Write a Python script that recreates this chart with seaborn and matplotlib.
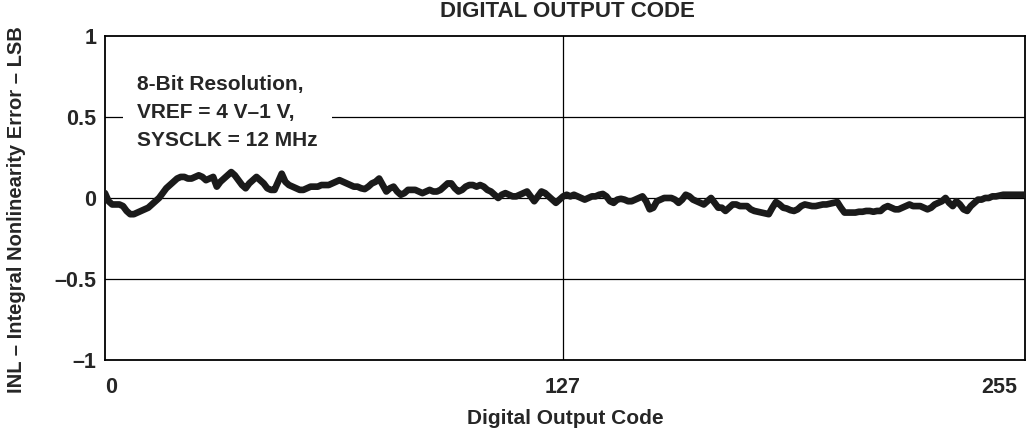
import seaborn as sns, pandas as pd, matplotlib.pyplot as plt
from matplotlib.transforms import ScaledTranslation

# INL values, one per output code 0..255
codes = list(range(256))
inl = [
    0.03, -0.02, -0.04, -0.04, -0.04, -0.05, -0.08, -0.10, -0.10, -0.09, -0.08, -0.07, -0.06, -0.04, -0.02, 0.00,
    0.03, 0.06, 0.08, 0.10, 0.12, 0.13, 0.13, 0.12, 0.12, 0.13, 0.14, 0.13, 0.11, 0.12, 0.13, 0.07,
    0.10, 0.12, 0.14, 0.16, 0.14, 0.11, 0.08, 0.06, 0.09, 0.11, 0.13, 0.11, 0.09, 0.06, 0.05, 0.05,
    0.10, 0.15, 0.10, 0.08, 0.07, 0.06, 0.05, 0.05, 0.06, 0.07, 0.07, 0.07, 0.08, 0.08, 0.08, 0.09,
    0.10, 0.11, 0.10, 0.09, 0.08, 0.07, 0.07, 0.06, 0.055, 0.07, 0.09, 0.10, 0.12, 0.08, 0.04, 0.06,
    0.07, 0.04, 0.02, 0.03, 0.05, 0.05, 0.05, 0.04, 0.03, 0.04, 0.05, 0.04, 0.04, 0.05, 0.07, 0.09,
    0.09, 0.06, 0.04, 0.05, 0.07, 0.08, 0.08, 0.07, 0.08, 0.07, 0.05, 0.04, 0.02, 0.00, 0.02, 0.03,
    0.02, 0.01, 0.01, 0.02, 0.03, 0.04, 0.01, -0.02, 0.01, 0.04, 0.03, 0.01, -0.01, -0.03, -0.01, 0.01,
    0.02, 0.01, 0.02, 0.01, 0.00, -0.01, 0.00, 0.01, 0.01, 0.02, 0.025, 0.01, -0.02, -0.03, -0.01, -0.005,
    -0.01, -0.02, -0.02, -0.01, 0.00, 0.01, -0.02, -0.07, -0.06, -0.02, -0.01, 0.00, 0.00, 0.00, -0.01, -0.03,
    -0.01, 0.02, 0.01, -0.01, -0.02, -0.03, -0.04, -0.02, 0.00, -0.03, -0.06, -0.06, -0.08, -0.06, -0.04, -0.04,
    -0.05, -0.05, -0.05, -0.07, -0.08, -0.085, -0.09, -0.095, -0.10, -0.06, -0.025, -0.04, -0.06, -0.065, -0.075, -0.08,
    -0.07, -0.05, -0.04, -0.045, -0.05, -0.05, -0.045, -0.04, -0.04, -0.035, -0.03, -0.025, -0.06, -0.09, -0.09, -0.09,
    -0.09, -0.085, -0.085, -0.08, -0.08, -0.085, -0.08, -0.08, -0.06, -0.05, -0.06, -0.07, -0.07, -0.06, -0.05, -0.04,
    -0.05, -0.05, -0.05, -0.06, -0.07, -0.06, -0.04, -0.03, -0.02, 0.00, -0.03, -0.05, -0.02, -0.04, -0.07, -0.08,
    -0.05, -0.03, -0.01, -0.01, 0.00, 0.00, 0.01, 0.01, 0.015, 0.02, 0.02, 0.02, 0.02, 0.02, 0.02, 0.02,
]
x_ticks = [0, 127, 255]
y_ticks = [1, 0.5, 0, -0.5, -1]
y_tick_labels = ['1', '0.5', '0', '\u20130.5', '\u20131']
note = '8-Bit Resolution,\nVREF = 4 V\u20131 V,\nSYSCLK = 12 MHz'

df = pd.DataFrame({'code': codes, 'inl': inl})

sns.set_style('white')
plt.rcParams['font.family'] = ['Liberation Sans', 'DejaVu Sans']
plt.rcParams['font.weight'] = 'bold'

fig = plt.figure(figsize=(10.29, 4.32), dpi=100)
ax = fig.add_axes([0.102, 0.1667, 0.894, 0.75])

# grid lines like the datasheet
for y in [0.5, 0, -0.5]:
    ax.axhline(y, color='black', lw=0.9, zorder=1)
ax.axvline(127, color='black', lw=0.9, zorder=1)

sns.lineplot(data=df, x='code', y='inl', color='#1a1a1a', lw=4.8, ax=ax, zorder=3)

ax.set_xlim(0, 255)
ax.set_ylim(-1, 1)
ax.set_xticks(x_ticks)
ax.set_xticklabels([str(t) for t in x_ticks])
ax.set_yticks(y_ticks)
ax.set_yticklabels(y_tick_labels)
ax.tick_params(axis='both', length=0, labelsize=15.5)
ax.tick_params(axis='x', pad=12)
ax.tick_params(axis='y', pad=6)
xl = ax.get_xticklabels()
xl[0].set_horizontalalignment('left')
xl[-1].set_horizontalalignment('right')
xl[-1].set_transform(xl[-1].get_transform() + ScaledTranslation(-8 / 100, 0, fig.dpi_scale_trans))
for lab in ax.get_xticklabels() + ax.get_yticklabels():
    lab.set_fontweight('bold')

for s in ax.spines.values():
    s.set_color('black')
    s.set_linewidth(1.3)

ax.set_xlabel('Digital Output Code', fontsize=15, fontweight='bold')
ax.xaxis.set_label_coords(0.5, -0.18)
ax.xaxis.label.set_verticalalignment('center')
ax.set_ylabel('INL \u2013 Integral Nonlinearity Error \u2013 LSB', fontsize=14.5, fontweight='bold')
ax.yaxis.set_label_coords(-0.096, 0.463)
ax.yaxis.label.set_verticalalignment('center')

ax.text(9, 0.76, note, fontsize=15, fontweight='bold', va='top', ha='left', linespacing=1.6,
        bbox=dict(facecolor='white', edgecolor='none', pad=10), zorder=4)

fig.text(0.551, 1 - 1 / 432, 'DIGITAL OUTPUT CODE', fontsize=16, fontweight='bold', ha='center', va='top')

fig.savefig('out.png', dpi=100)
